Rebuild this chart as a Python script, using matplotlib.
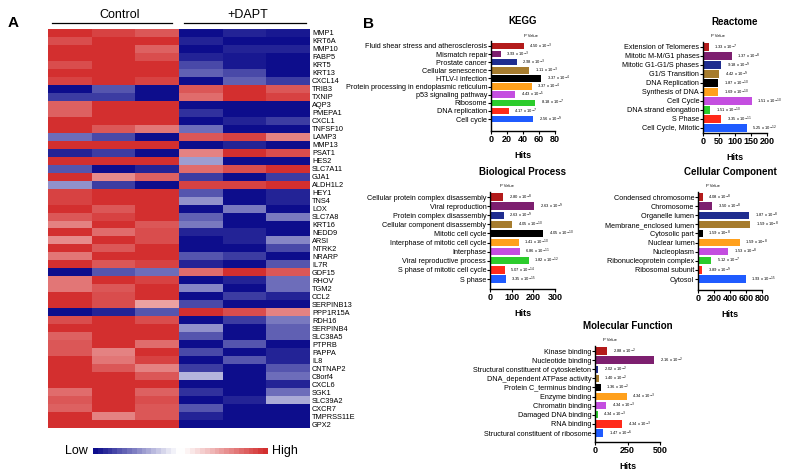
import numpy as np
import matplotlib
matplotlib.use('Agg')
import matplotlib.pyplot as plt
from matplotlib.colors import LinearSegmentedColormap

plt.rcParams['font.family'] = ['Liberation Sans', 'DejaVu Sans']

W, H = 788, 471

# ---------------- datos del heatmap ----------------
genes = ['MMP1', 'KRT6A', 'MMP10', 'FABP5', 'KRT5', 'KRT13', 'CXCL14', 'TRIB3', 'TXNIP',
         'AQP3', 'PMEPA1', 'CXCL1', 'TNFSF10', 'LAMP3', 'MMP13', 'PSAT1', 'HES2', 'SLC7A11',
         'GJA1', 'ALDH1L2', 'HEY1', 'TNS4', 'LOX', 'SLC7A8', 'KRT16', 'NEDD9', 'ARSI', 'NTRK2',
         'NRARP', 'IL7R', 'GDF15', 'RHOV', 'TGM2', 'CCL2', 'SERPINB13', 'PPP1R15A', 'RDH16',
         'SERPINB4', 'SLC38A5', 'PTPRB', 'PAPPA', 'IL8', 'CNTNAP2', 'C8orf4', 'CXCL6', 'SGK1',
         'SLC39A2', 'CXCR7', 'TMPRSS11E', 'GPX2']

control = [
    [1, 0.9, 0.8], [0.85, 1, 1], [1, 1, 0.75], [1, 1, 0.85], [0.85, 1, 1],
    [1, 1, 1], [0.9, 1, 0.9], [-1, -0.7, -1], [-0.8, -0.8, -1], [0.75, 1, 1],
    [0.75, 1, 1], [1, 1, 1], [1, 0.8, 0.65], [-0.6, -0.75, -1], [1, 1, 1],
    [-0.9, -0.8, -1], [1, 1, 1], [-0.7, -1, -0.9], [1, 0.55, 0.75], [-0.45, -0.8, -1],
    [0.9, 1, 1], [0.9, 1, 1], [1, 0.8, 1], [0.8, 0.9, 1], [0.6, 1, 0.8],
    [1, 0.7, 0.85], [0.55, 1, 0.85], [1, 0.8, 1], [0.65, 1, 1], [1, 0.8, 0.9],
    [-1, -0.7, -0.6], [0.65, 1, 0.9], [0.65, 0.8, 1], [1, 0.85, 1], [1, 0.85, 0.45],
    [-1, -0.9, -0.7], [0.85, 1, 0.85], [1, 1, 1], [0.75, 1, 1], [0.8, 1, 0.7],
    [0.8, 0.6, 1], [1, 0.65, 0.9], [1, 0.8, 0.6], [1, 1, 0.8], [1, 1, 1],
    [0.7, 1, 0.75], [0.8, 1, 0.85], [0.75, 1, 0.8], [1, 0.6, 0.8], [1, 1, 1],
]
dapt = [
    [-1, -0.9, -0.95], [-0.9, -1, -1], [-1, -0.9, -0.9], [-0.9, -0.95, -1], [-0.75, -0.95, -1],
    [-0.65, -0.75, -1], [-1, -0.65, -0.8], [0.8, 1, 0.8], [0.7, 1, 0.9], [-1, -1, -1],
    [-0.85, -1, -1], [-1, -0.9, -0.8], [-0.6, -1, -1], [0.8, 0.9, 0.6], [-1, -0.9, -1],
    [0.6, 1, 0.85], [-0.4, -1, -1], [0.7, 0.85, 1], [-0.8, -1, -0.8], [0.9, 0.9, 1],
    [-0.7, -1, -0.9], [-0.45, -1, -0.9], [-1, -0.55, -1], [-0.65, -1, -0.55], [-0.55, -1, -1],
    [-0.9, -0.9, -1], [-1, -0.9, -0.5], [-1, -1, -0.75], [-0.7, -0.8, -1], [-0.9, -1, -0.7],
    [0.7, 1, 0.8], [-1, -0.9, -0.6], [-0.5, -1, -0.6], [-1, -0.8, -0.9], [-0.75, -1, -1],
    [1, 0.85, 0.6], [-1, -0.8, -0.55], [-0.45, -1, -0.65], [-0.7, -1, -0.65], [-1, -0.7, -1],
    [-0.75, -1, -0.9], [-1, -0.7, -0.9], [-0.8, -1, -0.7], [-0.3, -1, -0.6], [-1, -1, -0.9],
    [-0.85, -1, -0.6], [-1, -0.9, -0.35], [-0.7, -1, -1], [-0.9, -1, -1], [-1, -1, -1],
]

# ---------------- datos de enriquecimiento ----------------
kegg_terms = ['Fluid shear stress and atherosclerosis', 'Mismatch repair', 'Prostate cancer',
              'Cellular senescence', 'HTLV-I infection', 'Protein processing in endoplasmic reticulum',
              'p53 signaling pathway', 'Ribosome', 'DNA replication', 'Cell cycle']
kegg_hits = [41, 12, 32, 48, 63, 51, 30, 55, 22, 53]
kegg_p = [(4.50, -3), (3.93, -3), (2.98, -3), (1.11, -3), (3.37, -4), (3.37, -4),
          (4.43, -5), (8.18, -7), (4.17, -7), (2.56, -9)]

reactome_terms = ['Extension of Telomeres', 'Mitotic M-M/G1 phases', 'Mitotic G1-G1/S phases',
                  'G1/S Transition', 'DNA Replication', 'Synthesis of DNA', 'Cell Cycle',
                  'DNA strand elongation', 'S Phase', 'Cell Cycle, Mitotic']
reactome_hits = [18, 90, 57, 50, 48, 47, 152, 22, 57, 136]
reactome_p = [(1.33, -7), (1.37, -8), (9.18, -9), (4.42, -9), (1.87, -10), (1.69, -10),
              (1.51, -10), (1.51, -10), (3.35, -11), (5.25, -12)]

bp_terms = ['Cellular protein complex disassembly', 'Viral reproduction', 'Protein complex disassembly',
            'Cellular component disassembly', 'Mitotic cell cycle', 'Interphase of mitotic cell cycle',
            'Interphase', 'Viral reproductive process', 'S phase of mitotic cell cycle', 'S phase']
bp_hits = [60, 205, 63, 103, 245, 133, 137, 178, 68, 72]
bp_p = [(2.80, -8), (2.63, -9), (2.63, -9), (4.05, -10), (4.05, -10), (1.41, -10),
        (6.86, -11), (1.82, -12), (5.07, -14), (3.35, -15)]

cc_terms = ['Condensed chromosome', 'Chromosome', 'Organelle lumen', 'Membrane_enclosed lumen',
            'Cytosolic part', 'Nuclear lumen', 'Nucleoplasm', 'Ribonucleoprotein complex',
            'Ribosomal subunit', 'Cytosol']
cc_hits = [60, 180, 640, 650, 60, 520, 375, 165, 55, 595]
cc_p = [(4.08, -8), (3.50, -8), (1.87, -8), (1.59, -8), (1.59, -8), (1.59, -8),
        (1.53, -8), (5.12, -7), (3.89, -9), (1.93, -15)]

mf_terms = ['Kinase binding', 'Nucleotide binding', 'Structural constituent of cytoskeleton',
            'DNA_dependent ATPase activity', 'Protein C_terminus binding', 'Enzyme binding',
            'Chromatin binding', 'Damaged DNA binding', 'RNA binding',
            'Structural constituent of ribosome']
mf_hits = [92, 455, 25, 27, 45, 245, 85, 20, 208, 62]
mf_p = [(2.88, -2), (2.16, -2), (2.02, -2), (1.40, -2), (1.36, -2), (4.34, -3),
        (4.34, -3), (4.34, -3), (4.34, -3), (1.47, -6)]

bar_colors = ['#b31b1b', '#7d1f6f', '#1f2d8f', '#a67c2e', '#000000',
              '#ffa01c', '#c44ee0', '#2ccc2c', '#ff2a1a', '#1f5bff']

cmap = LinearSegmentedColormap.from_list('bwr_heat', ['#0d0d8c', '#ffffff', '#d32f2f'])


def px_axes(fig, left, top, right, bottom):
    """ crea un axes a partir de coordenadas en pixeles """
    return fig.add_axes([left / W, 1 - bottom / H, (right - left) / W, (bottom - top) / H])


fig = plt.figure(figsize=(W / 100, H / 100), dpi=100)

# ---------------- panel A: heatmap ----------------
ax = px_axes(fig, 48, 29, 310, 428)
mat = np.hstack([np.array(control), np.array(dapt)])
ax.imshow(mat, cmap=cmap, vmin=-1, vmax=1, aspect='auto', interpolation='nearest')
ax.yaxis.tick_right()
ax.set_yticks(range(len(genes)))
ax.set_yticklabels(genes, fontsize=5.3)
ax.tick_params(axis='y', length=0, pad=1.5)
ax.set_xticks([])
for s in ax.spines.values():
    s.set_visible(False)

fig.text(13 / W, 1 - 23 / H, 'A', fontsize=11, fontweight='bold', ha='center', va='center')
fig.text(120 / W, 1 - 15 / H, 'Control', fontsize=9, ha='center', va='center')
fig.text(248 / W, 1 - 15 / H, '+DAPT', fontsize=9, ha='center', va='center')
fig.add_artist(plt.Line2D([52 / W, 172 / W], [1 - 23 / H] * 2, color='black', lw=0.9))
fig.add_artist(plt.Line2D([184 / W, 306 / W], [1 - 23 / H] * 2, color='black', lw=0.9))

# barra de color escalonada
cax = px_axes(fig, 93, 448, 268, 454)
steps = np.concatenate([np.linspace(-1, -0.05, 17), [0, 0], np.linspace(0.05, 1, 17)])
cax.imshow(steps[np.newaxis, :], cmap=cmap, vmin=-1, vmax=1, aspect='auto', interpolation='nearest')
cax.axis('off')
fig.text(88 / W, 1 - 451 / H, 'Low', fontsize=9, ha='right', va='center')
fig.text(272 / W, 1 - 451 / H, 'High', fontsize=9, ha='left', va='center')

# ---------------- panel B: barras ----------------
fig.text(368 / W, 1 - 24 / H, 'B', fontsize=11, fontweight='bold', ha='center', va='center')


def bar_panel(box, title, terms, hits, pvals, xmax, xticks, pv_dx):
    left, right, first_c, last_c, axis_y = box
    step = (last_c - first_c) / (len(terms) - 1)
    top = first_c - 0.6 * step
    ax = px_axes(fig, left, top, right, axis_y)
    y = np.arange(len(terms))
    ax.barh(y, hits, height=0.8, color=bar_colors)
    ax.set_xlim(0, xmax)
    ax.set_ylim(len(terms) - 1 + (axis_y - last_c) / step, -0.6)
    ax.set_yticks(y)
    ax.set_yticklabels(terms, fontsize=5.2)
    ax.set_xticks(xticks)
    ax.set_xticklabels([str(t) for t in xticks], fontsize=6.5, fontweight='bold')
    ax.tick_params(axis='y', length=2.2, width=0.8, pad=0.5)
    ax.tick_params(axis='x', length=2.2, width=0.8, pad=0.5)
    for side in ['top', 'right']:
        ax.spines[side].set_visible(False)
    for side in ['left', 'bottom']:
        ax.spines[side].set_linewidth(1.0)
    ax.set_xlabel('Hits', fontsize=6.5, fontweight='bold', labelpad=5)
    ax.set_title(title, fontsize=7, fontweight='bold', pad=12)
    for yi, h, (m, e) in zip(y, hits, pvals):
        ax.annotate(f'{m:.2f} x 10$^{{{e}}}$', (h, yi), xytext=(4, 0), textcoords='offset points',
                    fontsize=3, va='center', ha='left', annotation_clip=False)
    ax.annotate('P Value', (0, -0.6), xytext=(pv_dx, 2.5), textcoords='offset points',
                fontsize=3, ha='left', va='bottom', annotation_clip=False)
    return ax


bar_panel((491, 555, 46, 119, 131), 'KEGG', kegg_terms, kegg_hits, kegg_p, 80, [0, 20, 40, 60, 80], 24)
bar_panel((703, 767, 47, 128, 133), 'Reactome', reactome_terms, reactome_hits, reactome_p,
          200, [0, 50, 100, 150, 200], 6)
bar_panel((490, 555, 197, 279, 289), 'Biological Process', bp_terms, bp_hits, bp_p,
          300, [0, 100, 200, 300], 7)
bar_panel((698, 762, 197, 279, 290), 'Cellular Component', cc_terms, cc_hits, cc_p,
          800, [0, 200, 400, 600, 800], 6)
bar_panel((595, 660, 351, 433, 442), 'Molecular Function', mf_terms, mf_hits, mf_p,
          500, [0, 250, 500], 6)

fig.savefig('out.png', dpi=100)
